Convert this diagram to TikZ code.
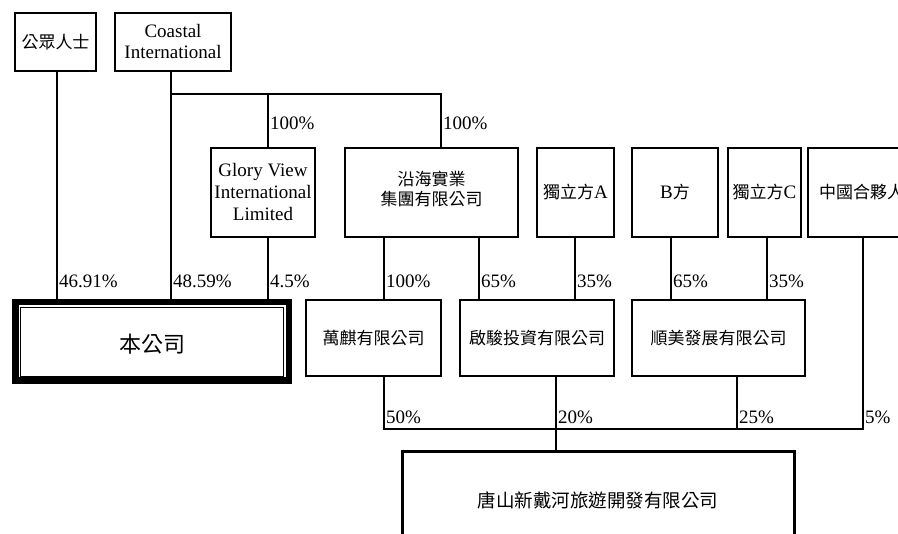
\documentclass[tikz,border=0pt]{standalone}
\usepackage{fontspec}
\setmainfont{Liberation Serif}
\newfontfamily\cjk{Noto Sans CJK TC}
\newcommand\zh[1]{{\cjk\fontsize{17}{20}\selectfont #1}}
\begin{document}
\begin{tikzpicture}[x=1pt,y=-1pt,
  box/.style={draw,line width=1.8pt,inner sep=0pt,align=center,font=\fontsize{19}{22}\selectfont},
  lnk/.style={line width=1.6pt},
  pct/.style={anchor=west,inner sep=0pt,font=\fontsize{19}{22}\selectfont}]
\clip (0,0) rectangle (898,534);
\fill[white] (0,0) rectangle (898,534);
% top row
\node[box,minimum width=81,minimum height=58] (pub) at (55.5,42) {\zh{公眾人士}};
\node[box,minimum width=116,minimum height=58] (coastal) at (173,42) {Coastal\\[-1pt]International};
% second row
\node[box,minimum width=104,minimum height=89] (gv) at (263,192.5) {Glory View\\International\\Limited};
\node[box,minimum width=173,minimum height=89] (yh) at (431.5,192.5) {};
\node[inner sep=0pt,align=center,font=\cjk\fontsize{17}{20}\selectfont] (yht) at (431.5,189) {沿海實業\\集團有限公司};
\node[box,minimum width=77,minimum height=89] (ia) at (575.5,192.5) {\zh{獨立方}A};
\node[box,minimum width=86,minimum height=89] (bf) at (675,192.5) {B\zh{方}};
\node[box,minimum width=73,minimum height=89] (ic) at (764.5,192.5) {\zh{獨立方}C};
\node[box,minimum width=107,minimum height=89] (cn) at (861.5,192.5) {\zh{中國合夥人}};
% company
\node[inner sep=0pt,minimum width=280,minimum height=85] (co) at (152,341.5) {};
\draw[line width=6.5pt] (15.25,302.25) rectangle (288.75,380.75);
\draw[line width=1.5pt] (20.5,307.5) rectangle (283.5,376.5);
\node (cot) at (152,344.5) {\cjk\fontsize{22}{24}\selectfont 本公司};
% third row
\node[box,minimum width=135,minimum height=76] (wq) at (373.5,338) {\zh{萬麒有限公司}};
\node[box,minimum width=154,minimum height=76] (qj) at (537,338) {\zh{啟駿投資有限公司}};
\node[box,minimum width=173,minimum height=76] (sm) at (718.5,338) {\zh{順美發展有限公司}};
% bottom
\node[box,line width=3pt,minimum width=392,minimum height=96] (ts) at (598,500) {{\cjk\fontsize{18.5}{20}\selectfont 唐山新戴河旅遊開發有限公司}};
% x positions
\coordinate (xa) at (57,0);
\coordinate (xb) at (171,0);
\coordinate (xc) at (268,0);
\coordinate (xd) at (441,0);
\coordinate (xe) at (384,0);
\coordinate (xf) at (479,0);
\coordinate (xg) at (575,0);
\coordinate (xh) at (671,0);
\coordinate (xi) at (767,0);
\coordinate (xj) at (863,0);
\coordinate (xk) at (556,0);
\coordinate (xl) at (737,0);
\coordinate (hb) at (171,94);
\coordinate (hd) at (441,94);
\coordinate (hl) at (384,429);
\coordinate (hr) at (863,429);
% connectors
\draw[lnk] (pub.south -| xa) -- (co.north -| xa);
\draw[lnk] (coastal.south -| xb) -- (co.north -| xb);
\draw[lnk] (hb) -- (hd) -- (yh.north -| hd);
\draw[lnk] (hb -| xc) -- (gv.north -| xc);
\draw[lnk] (gv.south -| xc) -- (co.north -| xc);
\draw[lnk] (yh.south -| xe) -- (wq.north -| xe);
\draw[lnk] (yh.south -| xf) -- (qj.north -| xf);
\draw[lnk] (ia.south -| xg) -- (qj.north -| xg);
\draw[lnk] (bf.south -| xh) -- (sm.north -| xh);
\draw[lnk] (ic.south -| xi) -- (sm.north -| xi);
\draw[lnk] (wq.south -| xe) -- (hl) -- (hr) -- (cn.south -| xj);
\draw[lnk] (qj.south -| xk) -- (ts.north -| xk);
\draw[lnk] (sm.south -| xl) -- (hl -| xl);
% labels
\node[pct] (p1) at (270,123) {100\%};
\node[pct] (p2) at (443,123) {100\%};
\node[pct] (p3) at (59,281) {46.91\%};
\node[pct] (p4) at (173,281) {48.59\%};
\node[pct] (p5) at (270,281) {4.5\%};
\node[pct] (p6) at (386,281) {100\%};
\node[pct] (p7) at (481,281) {65\%};
\node[pct] (p8) at (577,281) {35\%};
\node[pct] (p9) at (673,281) {65\%};
\node[pct] (p10) at (769,281) {35\%};
\node[pct] (p11) at (386,417) {50\%};
\node[pct] (p12) at (558,417) {20\%};
\node[pct] (p13) at (739,417) {25\%};
\node[pct] (p14) at (865,417) {5\%};
\end{tikzpicture}
\end{document}
